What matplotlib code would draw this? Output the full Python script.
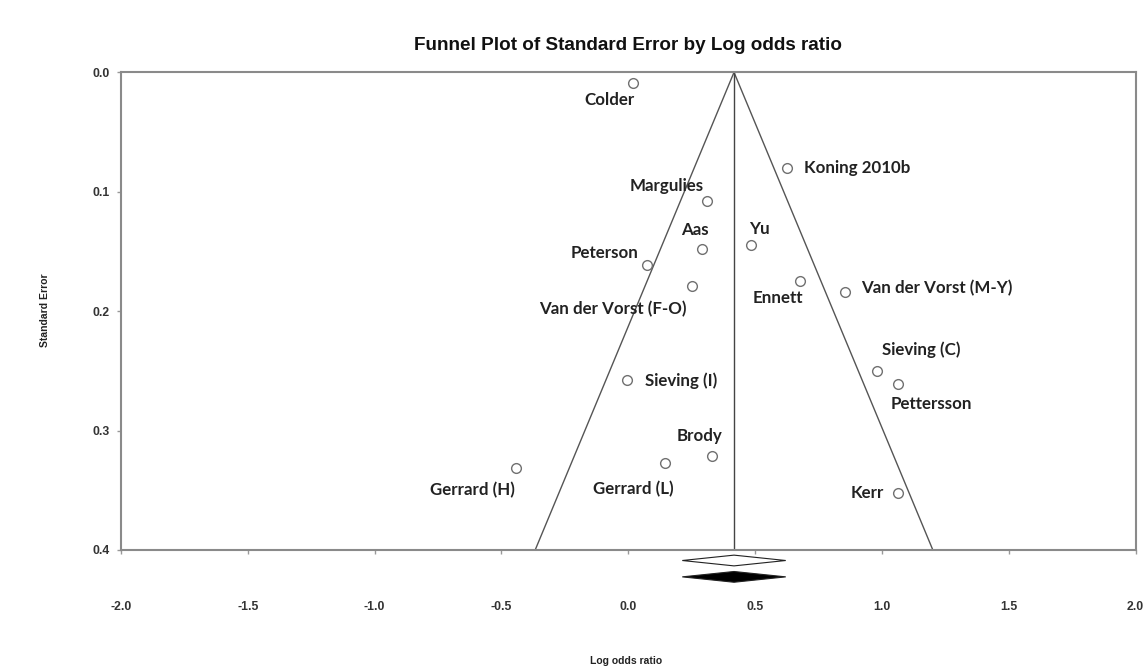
import numpy as np
import matplotlib.pyplot as plt
from matplotlib.patches import Polygon

studies = ['Colder', 'Koning 2010b', 'Margulies', 'Aas', 'Yu', 'Peterson',
           'Van der Vorst (F-O)', 'Ennett', 'Van der Vorst (M-Y)', 'Sieving (C)',
           'Pettersson', 'Sieving (I)', 'Brody', 'Gerrard (L)', 'Gerrard (H)', 'Kerr']
log_or = [0.019, 0.625, 0.31, 0.29, 0.484, 0.075,
          0.253, 0.676, 0.855, 0.981,
          1.062, -0.006, 0.329, 0.145, -0.443, 1.064]
std_err = [0.009, 0.080, 0.108, 0.148, 0.145, 0.161,
           0.179, 0.175, 0.184, 0.250,
           0.261, 0.258, 0.321, 0.327, 0.331, 0.352]

# summary estimate: point, lower, upper
summary = [0.417, 0.213, 0.621]

# label offsets in pixels (dx, dy), label centre relative to the marker
offsets = {
    'Colder': (-24, -17), 'Koning 2010b': (70, 0), 'Margulies': (-40, 15),
    'Aas': (-7, 19), 'Yu': (8, 16), 'Peterson': (-43, 12),
    'Van der Vorst (F-O)': (-80, -23), 'Ennett': (-22, -17),
    'Van der Vorst (M-Y)': (92, 4), 'Sieving (C)': (44, 21),
    'Pettersson': (34, -20), 'Sieving (I)': (54, 0), 'Brody': (-12, 20),
    'Gerrard (L)': (-32, -26), 'Gerrard (H)': (-43, -23), 'Kerr': (-31, 0),
}

fig = plt.figure(figsize=(11.47, 6.70), dpi=100)
ax = fig.add_axes([121 / 1147, 1 - 550 / 670, (1135.5 - 121) / 1147, (550 - 72.3) / 670])

ax.set_xlim(-2.0, 2.0)
ax.set_ylim(0.4, 0.0)

# funnel and mean line
se_max = 0.4
mean = summary[0]
ax.plot([mean - 1.96 * se_max, mean, mean + 1.96 * se_max], [se_max, 0, se_max],
        color='#555555', lw=1.0, zorder=2)
ax.plot([mean, mean], [0, se_max], color='#444444', lw=1.0, zorder=2)

ax.plot(log_or, std_err, 'o', ms=7, mfc='white', mec='#707070', mew=1.0,
        zorder=3, clip_on=False)

for name, x, y in zip(studies, log_or, std_err):
    dx, dy = offsets[name]
    ax.annotate(name, (x, y), xytext=(dx, dy), textcoords='offset pixels',
                ha='center', va='center', fontsize=12.2, fontweight='bold',
                family='Lato', color='#222222')

# summary diamonds below the axis
for yc, fc in [(0.4088, 'white'), (0.4225, 'black')]:
    d = Polygon([[summary[1], yc], [summary[0], yc - 0.0045],
                 [summary[2], yc], [summary[0], yc + 0.0045]],
                closed=True, fc=fc, ec='#222222', lw=0.8, clip_on=False, zorder=3)
    ax.add_patch(d)

ax.set_xticks(np.arange(-2.0, 2.01, 0.5))
ax.set_yticks(np.arange(0.0, 0.41, 0.1))
ax.set_xticklabels(['%.1f' % v for v in np.arange(-2.0, 2.01, 0.5)])
ax.set_yticklabels(['%.1f' % v for v in np.arange(0.0, 0.41, 0.1)])
ax.tick_params(axis='x', direction='out', length=3, width=1, color='#999999',
               pad=34, labelsize=8.8, labelcolor='#333333')
ax.tick_params(axis='y', direction='out', length=3, width=1, color='#999999',
               pad=5, labelsize=8.8, labelcolor='#333333')
for lab in ax.get_xticklabels() + ax.get_yticklabels():
    lab.set_fontweight('bold')
    lab.set_family('Liberation Sans')

for s in ax.spines.values():
    s.set_color('#8a8a8a')
    s.set_linewidth(1.5)

fig.text(628 / 1147, 1 - 45 / 670, 'Funnel Plot of Standard Error by Log odds ratio',
         ha='center', va='center', fontsize=13.6, fontweight='bold',
         family='Liberation Sans', color='#111111')
fig.text(626 / 1147, 1 - 661 / 670, 'Log odds ratio', ha='center', va='center',
         fontsize=7.5, fontweight='bold', family='Liberation Sans', color='#222222')
fig.text(45 / 1147, 1 - 310 / 670, 'Standard Error', ha='center', va='center',
         rotation=90, fontsize=7.5, fontweight='bold', family='Liberation Sans',
         color='#222222')

fig.savefig('out.png', dpi=100)
